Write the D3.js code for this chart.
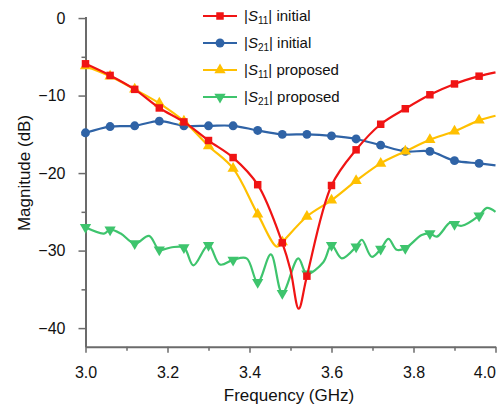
<!DOCTYPE html>
<html>
<head>
<meta charset="utf-8">
<script src="https://cdn.jsdelivr.net/npm/d3@7"></script>
<style>
  body { margin: 0; background: #fff; }
  text { font-family: "Liberation Sans", Arial, sans-serif; }
</style>
</head>
<body>
<div id="chartcontainer"></div>
<script>
let w = 497;
let h = 408;

// frequencies where the markers sit (GHz)
let markerFreq = [3.00, 3.06, 3.12, 3.18, 3.24, 3.30, 3.36, 3.42, 3.48, 3.54, 3.60, 3.66, 3.72, 3.78, 3.84, 3.90, 3.96];

// marker values (dB)
let s11Initial = [-5.9, -7.4, -9.2, -11.6, -13.4, -15.8, -18.0, -21.5, -29.0, -33.3, -21.6, -17.0, -13.7, -11.7, -9.9, -8.5, -7.5];
let s21Initial = [-14.8, -14.0, -13.9, -13.3, -13.9, -13.9, -13.9, -14.5, -15.0, -15.0, -15.2, -15.6, -16.4, -17.2, -17.2, -18.4, -18.75];
let s11Proposed = [-6.2, -7.5, -9.2, -11.0, -13.3, -16.5, -19.4, -25.3, -28.9, -25.6, -23.5, -21.0, -18.75, -17.2, -15.7, -14.6, -13.2];
let s21Proposed = [-27.0, -27.3, -29.1, -29.9, -29.6, -29.3, -31.2, -34.1, -35.5, -33.0, -29.3, -29.5, -29.8, -29.7, -27.8, -26.6, -25.5];

// curve points between markers (freq, dB)
let s11InitialExtra = [[3.50, -32.5], [3.52, -37.5], [4.0, -7.0]];
let s21InitialExtra = [[4.0, -19.0]];
let s11ProposedExtra = [[3.467, -29.5], [4.0, -12.6]];
let s21ProposedExtra = [[3.045, -27.8], [3.086, -27.8], [3.155, -28.1], [3.208, -29.6], [3.263, -31.9],
  [3.328, -31.8], [3.393, -31.0], [3.452, -30.5], [3.519, -31.0], [3.58, -31.5], [3.625, -31.0],
  [3.674, -28.6], [3.698, -30.8], [3.739, -28.5], [3.759, -29.9], [3.82, -28.0], [3.857, -28.2],
  [3.889, -26.4], [3.918, -26.8], [3.979, -24.5], [4.0, -25.0]];

let xMajor = [3.0, 3.2, 3.4, 3.6, 3.8, 4.0];
let xMinor = [3.1, 3.3, 3.5, 3.7, 3.9];
let yMajor = [0, -10, -20, -30, -40];
let yMinor = [-5, -15, -25, -35];

let legendNames = [["11", "initial"], ["21", "initial"], ["11", "proposed"], ["21", "proposed"]];

let svg = d3.select("#chartcontainer")
  .append("svg")
  .attr("width", w)
  .attr("height", h)
  .style("display", "block");

svg.append("rect").attr("width", w).attr("height", h).attr("fill", "white");

let x = d3.scaleLinear().domain([3.0, 4.0]).range([85.5, 495.5]);
let y = d3.scaleLinear().domain([-42.4, 0.2]).range([346.7, 16.5]);

let axisColor = "#6b6b6b";

// x axis
let xAxis = svg.append("g")
  .attr("transform", "translate(0,346.7)")
  .call(d3.axisBottom(x).tickValues(xMajor).tickSize(6).tickSizeOuter(0).tickPadding(14)
    .tickFormat(d3.format(".1f")));
svg.append("g")
  .attr("transform", "translate(0,346.7)")
  .call(d3.axisBottom(x).tickValues(xMinor).tickSize(4).tickFormat(""))
  .call(g => g.select(".domain").remove());

// last label sits inside the picture edge
xAxis.selectAll(".tick text")
  .filter(d => d == 4.0)
  .attr("text-anchor", "end")
  .attr("x", 0);

// y axis
let yAxis = svg.append("g")
  .attr("transform", "translate(85.5,0)")
  .call(d3.axisLeft(y).tickValues(yMajor).tickSize(7).tickSizeOuter(0).tickPadding(13)
    .tickFormat(d => d == 0 ? "0" : "\u2212" + Math.abs(d)));
svg.append("g")
  .attr("transform", "translate(85.5,0)")
  .call(d3.axisLeft(y).tickValues(yMinor).tickSize(4).tickFormat(""))
  .call(g => g.select(".domain").remove());

svg.selectAll(".domain").attr("stroke", axisColor).attr("stroke-width", 2);
svg.selectAll(".tick line").attr("stroke", axisColor).attr("stroke-width", 1.5);
svg.selectAll(".tick text")
  .attr("fill", "#111")
  .style("font-size", "16px")
  .style("font-family", "'Liberation Sans', Arial, sans-serif");

svg.append("text")
  .text("Frequency (GHz)")
  .attr("x", 289)
  .attr("y", 401)
  .attr("text-anchor", "middle")
  .attr("fill", "#111")
  .style("font-size", "17px");

svg.append("text")
  .text("Magnitude (dB)")
  .attr("transform", "translate(30,173) rotate(-90)")
  .attr("text-anchor", "middle")
  .attr("fill", "#111")
  .style("font-size", "17px");

// series
function buildPoints(vals, extra) {
  let pts = markerFreq.map((f, i) => [f, vals[i]]).concat(extra);
  pts.sort((a, b) => a[0] - b[0]);
  return pts;
}

let series = [
  { vals: s21Proposed, extra: s21ProposedExtra, color: "#3ec46d", sym: d3.symbolTriangle, rot: 180, size: 55 },
  { vals: s21Initial, extra: s21InitialExtra, color: "#2f63a6", sym: d3.symbolCircle, rot: 0, size: 62 },
  { vals: s11Proposed, extra: s11ProposedExtra, color: "#ffc000", sym: d3.symbolTriangle, rot: 0, size: 55 },
  { vals: s11Initial, extra: s11InitialExtra, color: "#f01414", sym: d3.symbolSquare, rot: 0, size: 56 }
];

let line = d3.line()
  .x(d => x(d[0]))
  .y(d => y(d[1]))
  .curve(d3.curveCatmullRom.alpha(0.5));

series.forEach(s => {
  let g = svg.append("g");
  g.append("path")
    .datum(buildPoints(s.vals, s.extra))
    .attr("d", line)
    .attr("fill", "none")
    .attr("stroke", s.color)
    .attr("stroke-width", 2.2);
  g.selectAll("path.mk")
    .data(markerFreq.map((f, i) => [f, s.vals[i]]))
    .join("path")
    .attr("class", "mk")
    .attr("d", d3.symbol().type(s.sym).size(s.size))
    .attr("transform", d => "translate(" + x(d[0]) + "," + y(d[1]) + ") rotate(" + s.rot + ")")
    .attr("fill", s.color);
});

// legend (same order as the figure)
let legendSeries = [series[3], series[1], series[2], series[0]];
let legendY = [16, 43, 70, 97];
legendSeries.forEach((s, i) => {
  let g = svg.append("g").attr("transform", "translate(0," + legendY[i] + ")");
  g.append("line")
    .attr("x1", 203).attr("x2", 237)
    .attr("stroke", s.color).attr("stroke-width", 2.2);
  g.append("path")
    .attr("d", d3.symbol().type(s.sym).size(s.size))
    .attr("transform", "translate(220,0) rotate(" + s.rot + ")")
    .attr("fill", s.color);
  let t = g.append("text")
    .attr("x", 244)
    .attr("y", 5)
    .attr("fill", "#111")
    .style("font-size", "15px");
  t.append("tspan").text("|");
  t.append("tspan").text("S").style("font-style", "italic");
  t.append("tspan").text(legendNames[i][0]).style("font-size", "10px").attr("dy", 3);
  t.append("tspan").text("| " + legendNames[i][1]).attr("dy", -3);
});
</script>
</body>
</html>
